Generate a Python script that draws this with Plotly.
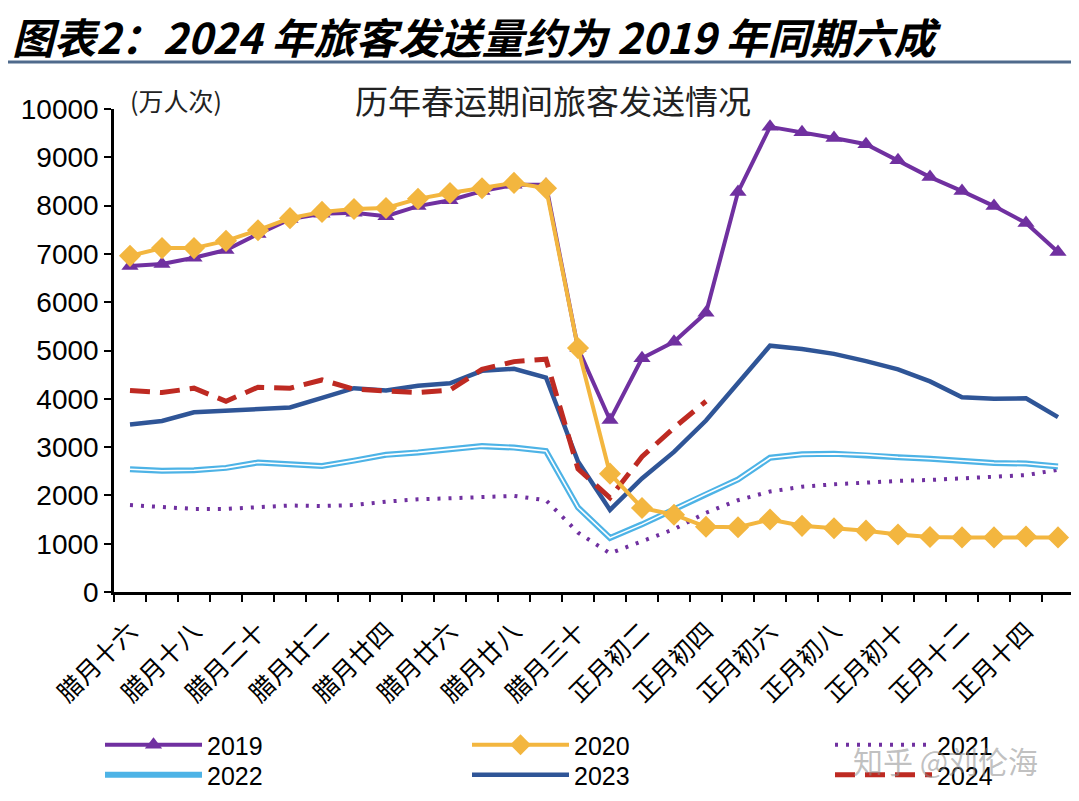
import plotly.graph_objects as go

# ---------------- data ----------------
days = ["腊月十六", "腊月十七", "腊月十八", "腊月十九", "腊月二十", "腊月廿一", "腊月廿二",
        "腊月廿三", "腊月廿四", "腊月廿五", "腊月廿六", "腊月廿七", "腊月廿八", "腊月廿九",
        "腊月三十", "正月初一", "正月初二", "正月初三", "正月初四", "正月初五", "正月初六",
        "正月初七", "正月初八", "正月初九", "正月初十", "正月十一", "正月十二", "正月十三",
        "正月十四", "正月十五"]

y2019 = [6750, 6790, 6920, 7080, 7410, 7720, 7830, 7850, 7780, 7990, 8110, 8300, 8430, 8430,
         5050, 3560, 4840, 5180, 5780, 8280, 9630, 9520, 9400, 9270, 8940, 8590, 8300, 7990,
         7640, 7040]
y2020 = [6960, 7120, 7120, 7270, 7490, 7740, 7870, 7930, 7950, 8140, 8260, 8360, 8470, 8360,
         5050, 2450, 1740, 1600, 1350, 1340, 1500, 1370, 1320, 1270, 1190, 1140, 1130, 1130,
         1150, 1130]
y2021 = [1800, 1750, 1720, 1720, 1750, 1790, 1780, 1800, 1870, 1920, 1940, 1970, 1990, 1900,
         1230, 800, 1050, 1300, 1640, 1900, 2080, 2180, 2230, 2270, 2300, 2320, 2350, 2380,
         2420, 2530]
y2022 = [2540, 2510, 2520, 2570, 2680, 2640, 2610, 2720, 2840, 2890, 2960, 3020, 2990, 2920,
         1750, 1120, 1400, 1720, 2030, 2330, 2780, 2850, 2860, 2840, 2790, 2760, 2710, 2670,
         2660, 2600]
y2023 = [3470, 3540, 3720, 3750, 3790, 3820, 4020, 4220, 4170, 4270, 4320, 4580, 4620, 4440,
         2700, 1700, 2350, 2900, 3550, 4330, 5100, 5030, 4930, 4780, 4610, 4360, 4030, 4000,
         4010, 3620]
y2024 = [4170, 4130, 4220, 3950, 4240, 4220, 4390, 4200, 4160, 4130, 4180, 4610, 4770, 4820,
         2550, 1950, 2800, 3400, 3950]

y_ticks = [0, 1000, 2000, 3000, 4000, 5000, 6000, 7000, 8000, 9000, 10000]

title_text = "图表2：2024 年旅客发送量约为 2019 年同期六成"
subtitle_text = "历年春运期间旅客发送情况"
unit_text = "(万人次)"
watermark_text = "知乎 @刘伦海"

# ---------------- layout geometry ----------------
O = 8                      # default page body margin
W, H = 1079 - O, 801 - O
L, R, T, B = 106, 5, 101, 209
PW, PH = W - L - R, H - T - B


def px_x(x):
    """reference-picture x pixel -> paper fraction"""
    return (x - O - L) / PW


def px_y(y):
    """reference-picture y pixel -> paper fraction"""
    return (H - B - (y - O)) / PH


CJK = "Noto Sans CJK SC"
LAT = "Liberation Sans"

x_idx = list(range(len(days)))

fig = go.Figure()

# drawing order: 2021, 2022, 2023, 2024, 2019, 2020 ; each entry has its own legend slot
fig.add_trace(go.Scatter(
    x=x_idx[:len(y2021)], y=y2021, name="2021", mode="lines", legend="legend3",
    line=dict(color="#7030A0", width=4, dash="3px,8px")))

fig.add_trace(go.Scatter(
    x=x_idx[:len(y2022)], y=y2022, name="2022", mode="lines", legend="legend4",
    legendgroup="g2022", line=dict(color="#4DB3E6", width=6)))
fig.add_trace(go.Scatter(
    x=x_idx[:len(y2022)], y=y2022, name="2022", mode="lines", showlegend=False,
    legendgroup="g2022", hoverinfo="skip", line=dict(color="white", width=1.6)))

fig.add_trace(go.Scatter(
    x=x_idx[:len(y2023)], y=y2023, name="2023", mode="lines", legend="legend5",
    line=dict(color="#2F5597", width=4.5)))

fig.add_trace(go.Scatter(
    x=x_idx[:len(y2024)], y=y2024, name="2024", mode="lines", legend="legend6",
    line=dict(color="#BE2A22", width=5, dash="20px,10px")))

fig.add_trace(go.Scatter(
    x=x_idx[:len(y2019)], y=y2019, name="2019", mode="lines+markers", legend="legend",
    line=dict(color="#7030A0", width=4),
    marker=dict(symbol="triangle-up", size=15, color="#7030A0")))

fig.add_trace(go.Scatter(
    x=x_idx[:len(y2020)], y=y2020, name="2020", mode="lines+markers", legend="legend2",
    line=dict(color="#F3B63F", width=4),
    marker=dict(symbol="diamond", size=17, color="#F3B63F")))

minor_vals = [i - 0.5 for i in range(len(days) + 1)]

fig.update_xaxes(
    range=[-0.5, len(days) - 0.5],
    tickmode="array",
    tickvals=x_idx[::2],
    ticktext=days[::2],
    tickangle=-45,
    ticks="",
    ticklabelstandoff=12,
    tickfont=dict(family=CJK, size=25, color="black"),
    showline=True, linecolor="black", linewidth=2.5,
    showgrid=False, zeroline=False,
    minor=dict(tickmode="array", tickvals=minor_vals, ticks="outside",
               ticklen=7, tickwidth=2, tickcolor="black", showgrid=False),
)

fig.update_yaxes(
    range=[0, 10000],
    tickmode="array",
    tickvals=y_ticks,
    ticktext=[str(v) for v in y_ticks],
    ticks="outside", ticklen=7, tickwidth=2, tickcolor="black",
    tickfont=dict(family=LAT, size=28, color="black"),
    showline=True, linecolor="black", linewidth=2.5,
    showgrid=False, zeroline=False,
)


def legend_box(x_ref, y_ref):
    return dict(
        orientation="v",
        x=px_x(x_ref - 8), xanchor="left",
        y=px_y(y_ref), yanchor="middle",
        font=dict(family=LAT, size=25, color="black"),
        itemwidth=97,
        bgcolor="rgba(0,0,0,0)",
        tracegroupgap=0,
    )


fig.update_layout(
    width=W, height=H,
    margin=dict(l=L, r=R, t=T, b=B, autoexpand=False),
    paper_bgcolor="white", plot_bgcolor="white",
    showlegend=True,
    legend=legend_box(108, 745),
    legend2=legend_box(475, 745),
    legend3=legend_box(838, 745),
    legend4=legend_box(108, 775),
    legend5=legend_box(475, 775),
    legend6=legend_box(838, 775),
    annotations=[
        dict(text=title_text, xref="paper", yref="paper",
             x=px_x(10), y=px_y(35), xanchor="left", yanchor="middle", showarrow=False,
             font=dict(family=CJK, size=42, color="black", weight="bold", style="italic")),
        dict(text=subtitle_text, xref="paper", yref="paper",
             x=px_x(553), y=px_y(100), xanchor="center", yanchor="middle", showarrow=False,
             font=dict(family=CJK, size=33, color="#222222")),
        dict(text=unit_text, xref="paper", yref="paper",
             x=px_x(128), y=px_y(100), xanchor="left", yanchor="middle", showarrow=False,
             font=dict(family=CJK, size=25, color="#222222")),
        dict(text=watermark_text, xref="paper", yref="paper",
             x=px_x(945), y=px_y(760), xanchor="center", yanchor="middle", showarrow=False,
             font=dict(family=CJK, size=30, color="rgba(140,140,140,0.55)")),
    ],
    shapes=[
        dict(type="line", xref="paper", yref="paper",
             x0=px_x(0), x1=px_x(1079), y0=px_y(62), y1=px_y(62),
             line=dict(color="#4F6A8C", width=3)),
    ],
)

fig.write_html("out.html")
